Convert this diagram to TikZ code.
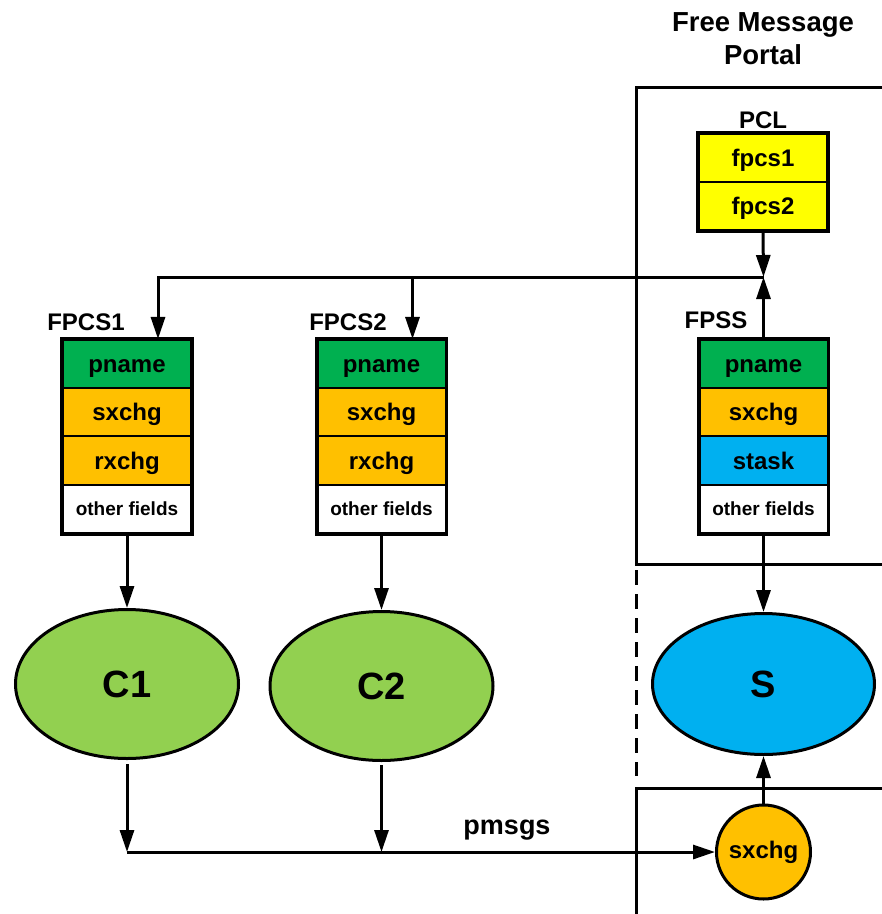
\documentclass[tikz,border=0pt]{standalone}
\usepackage{fontspec}
\setmainfont{Liberation Sans}
\usetikzlibrary{shapes.geometric,arrows.meta,calc}

\definecolor{fgreen}{HTML}{00B050}
\definecolor{forange}{HTML}{FFC000}
\definecolor{fblue}{HTML}{00B0F0}
\definecolor{fyellow}{HTML}{FFFF00}
\definecolor{lgreen}{HTML}{92D050}

\tikzset{
  field/.style={draw, line width=2pt, minimum width=128pt, minimum height=48.25pt,
    inner sep=0pt, text height=17pt, text depth=0pt,
    font=\fontsize{24}{28}\selectfont\bfseries},
  smallfield/.style={field, text height=13.5pt, font=\fontsize{19}{22}\selectfont\bfseries},
  recframe/.style={draw, line width=3.5pt},
  caption/.style={font=\fontsize{24}{28}\selectfont\bfseries, inner sep=0pt},
  proc/.style={ellipse, draw, line width=3pt, inner sep=0pt,
    minimum width=223pt, minimum height=149pt, font=\fontsize{38}{44}\selectfont\bfseries},
  arr/.style={line width=3pt, -{Triangle[length=22pt,width=14pt]}},
  portal/.style={line width=3pt},
}

\begin{document}
\begin{tikzpicture}[x=1pt,y=-1pt]
\useasboundingbox (0,0) rectangle (882,914);

% title
\node[font=\fontsize{27.5}{33}\selectfont\bfseries, align=center] (title) at (763,39) {Free Message\\Portal};

% portal boundaries
\draw[portal] (882,87) -- (636,87) -- (636,564) -- (882,564);
\draw[portal, dash pattern=on 15pt off 9pt] (636,570) -- (636,776);
\draw[portal] (882,788) -- (636,788) -- (636,914);

% PCL record
\node[caption] (pcllab) at (763,120) {PCL};
\node[field, fill=fyellow, minimum height=48pt] (pa) at (763,158) {fpcs1};
\node[field, fill=fyellow, minimum height=48pt] (pb) at (763,206) {fpcs2};
\draw[recframe] (pa.north west) rectangle (pb.south east);

% FPCS1 record
\node[caption] (l1) at (86,322) {FPCS1};
\node[field, fill=fgreen]  (a1) at (127,364.1) {pname};
\node[field, fill=forange] (a2) at (127,412.4) {sxchg};
\node[field, fill=forange] (a3) at (127,460.6) {rxchg};
\node[smallfield, fill=white] (a4) at (127,508.9) {other fields};
\draw[recframe] (a1.north west) rectangle (a4.south east);

% FPCS2 record
\node[caption] (l2) at (348,322) {FPCS2};
\node[field, fill=fgreen]  (b1) at (381.5,364.1) {pname};
\node[field, fill=forange] (b2) at (381.5,412.4) {sxchg};
\node[field, fill=forange] (b3) at (381.5,460.6) {rxchg};
\node[smallfield, fill=white] (b4) at (381.5,508.9) {other fields};
\draw[recframe] (b1.north west) rectangle (b4.south east);

% FPSS record
\node[caption] (l3) at (716,320) {FPSS};
\node[field, fill=fgreen]  (s1) at (763.5,364.1) {pname};
\node[field, fill=forange] (s2) at (763.5,412.4) {sxchg};
\node[field, fill=fblue]   (s3) at (763.5,460.6) {stask};
\node[smallfield, fill=white] (s4) at (763.5,508.9) {other fields};
\draw[recframe] (s1.north west) rectangle (s4.south east);

% processes
\node[proc, fill=lgreen] (c1) at (127,684) {C1};
\node[proc, fill=lgreen] (c2) at (381.5,686) {C2};
\node[proc, fill=fblue, minimum width=222pt, minimum height=141pt] (srv) at (763.5,684) {S};
\node[circle, draw, line width=3pt, fill=forange, minimum size=94pt, inner sep=0pt,
  font=\fontsize{24}{28}\selectfont\bfseries] (sx) at (763.5,852) {sxchg};

% distribution of the PCL entries
\coordinate (J) at (763.5,277);
\coordinate (t1) at ($(a1.north)+(31,0)$);
\coordinate (t2) at ($(b1.north)+(31,0)$);
\draw[arr] (pb.south) -- (J);
\draw[arr] (s1.north) -- (J);
\draw[arr] (J) -| (t1);
\draw[arr] (t2 |- J) -- (t2);

% records to processes
\draw[arr] (a4.south) -- (c1.north);
\draw[arr] (b4.south) -- (c2.north);
\draw[arr] (s4.south) -- (srv.north);

% message path
\coordinate (m1) at (127,852);
\coordinate (m2) at (381.5,852);
\draw[arr] ($(c1.south)+(0,4)$) -- (m1);
\draw[arr] ($(c2.south)+(0,3)$) -- (m2);
\draw[arr] (m1) -- (sx.west);
\node[font=\fontsize{27}{32}\selectfont\bfseries] (pm) at (507,830) {pmsgs};
\draw[arr] (sx.north) -- (srv.south);
\end{tikzpicture}
\end{document}
